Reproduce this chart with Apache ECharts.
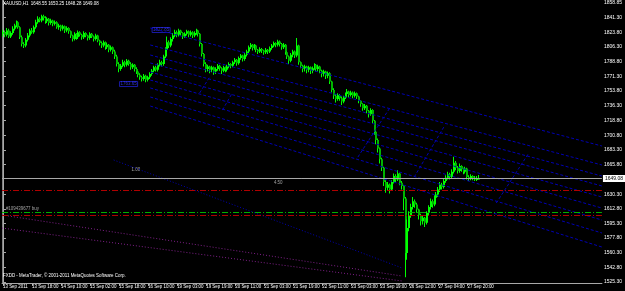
<!DOCTYPE html>
<html><head><meta charset="utf-8">
<script src="https://cdn.jsdelivr.net/npm/echarts@6/dist/echarts.min.js"></script>
<style>html,body{margin:0;padding:0;background:#000;}#c{width:625px;height:291px;}</style>
</head><body><div id="c"></div>
<script>
const timeLabels = ["13 Sep 2011","13 Sep 18:00","14 Sep 10:00","15 Sep 02:00","15 Sep 18:00","16 Sep 10:00","19 Sep 03:00","19 Sep 19:00","20 Sep 11:00","21 Sep 03:00","21 Sep 19:00","22 Sep 11:00","23 Sep 03:00","23 Sep 19:00","26 Sep 12:00","27 Sep 04:00","27 Sep 20:00"];
const labelEvery = 15;
const slotCount = 310;
const priceTicks = [1525.30,1542.80,1560.30,1577.80,1595.30,1612.80,1630.30,1665.80,1683.30,1700.80,1718.80,1736.30,1753.80,1771.30,1788.80,1806.30,1823.80,1841.30,1858.85];

const closes = [1824,1821,1826,1819,1823,1828,1832,1836,1830,1818,
1810,1808,1815,1820,1826,1824,1830,1836,1840,1838,
1843,1841,1837,1840,1835,1838,1834,1836,1830,1832,
1828,1831,1826,1829,1825,1820,1816,1822,1818,1824,
1821,1818,1823,1820,1817,1822,1819,1816,1820,1814,
1811,1808,1812,1806,1809,1803,1806,1801,1795,1786,
1780,1784,1788,1785,1790,1786,1782,1785,1780,1777,
1773,1770,1768,1772,1767,1770,1774,1778,1782,1779,
1785,1788,1786,1795,1803,1812,1808,1816,1820,1824,
1821,1826,1823,1819,1822,1825,1821,1824,1820,1823,
1826,1822,1810,1798,1786,1780,1783,1779,1782,1777,
1780,1784,1781,1778,1782,1779,1783,1786,1784,1788,
1791,1787,1793,1796,1792,1797,1801,1806,1809,1805,
1808,1803,1801,1804,1802,1800,1803,1801,1805,1808,
1811,1809,1813,1810,1806,1809,1800,1795,1790,1797,
1801,1796,1808,1788,1784,1780,1783,1779,1782,1778,
1781,1785,1780,1783,1778,1774,1777,1772,1775,1765,
1755,1748,1744,1749,1745,1741,1746,1750,1753,1749,
1752,1748,1751,1747,1742,1738,1733,1736,1730,1726,
1731,1718,1705,1695,1685,1672,1662,1645,1638,1642,
1636,1645,1652,1648,1655,1644,1640,1625,1560,1590,
1605,1615,1622,1618,1612,1605,1598,1602,1596,1608,
1615,1622,1618,1626,1630,1636,1642,1639,1646,1650,
1654,1651,1657,1668,1662,1658,1664,1660,1657,1661,
1651,1649,1652,1650,1648,1648.55,1649.08];

const opens = [1822,1824,1821,1826,1819,1823,1828,1832,1836,1830,
1818,1810,1808,1815,1820,1826,1824,1830,1836,1840,
1838,1843,1841,1837,1840,1835,1838,1834,1836,1830,
1832,1828,1831,1826,1829,1825,1820,1816,1822,1818,
1824,1821,1818,1823,1820,1817,1822,1819,1816,1820,
1814,1811,1808,1812,1806,1809,1803,1806,1801,1795,
1786,1780,1784,1788,1785,1790,1786,1782,1785,1780,
1777,1773,1770,1768,1772,1767,1770,1774,1778,1782,
1779,1785,1788,1786,1795,1803,1812,1808,1816,1820,
1824,1821,1826,1823,1819,1822,1825,1821,1824,1820,
1823,1826,1822,1810,1798,1786,1780,1783,1779,1782,
1777,1780,1784,1781,1778,1782,1779,1783,1786,1784,
1788,1791,1787,1793,1796,1792,1797,1801,1806,1809,
1805,1808,1803,1801,1804,1802,1800,1803,1801,1805,
1808,1811,1809,1813,1810,1806,1809,1800,1795,1790,
1797,1801,1796,1808,1788,1784,1780,1783,1779,1782,
1778,1781,1785,1780,1783,1778,1774,1777,1772,1775,
1765,1755,1748,1744,1749,1745,1741,1746,1750,1753,
1749,1752,1748,1751,1747,1742,1738,1733,1736,1730,
1726,1731,1718,1705,1695,1685,1672,1662,1645,1638,
1642,1636,1645,1652,1648,1655,1644,1640,1625,1560,
1590,1605,1615,1622,1618,1612,1605,1598,1602,1596,
1608,1615,1622,1618,1626,1630,1636,1642,1639,1646,
1650,1654,1651,1657,1668,1662,1658,1664,1660,1657,
1661,1651,1649,1652,1650,1648,1648.55];

const highs = [1827,1826,1829,1828,1825,1831,1834,1838,1837,1831,
1820,1812,1817,1823,1828,1829,1832,1839,1843,1842,
1845,1845,1843,1842,1841,1840,1839,1838,1837,1834,
1833,1833,1832,1831,1830,1826,1821,1824,1823,1826,
1825,1822,1825,1824,1821,1824,1823,1820,1822,1821,
1815,1813,1814,1813,1811,1810,1808,1807,1803,1797,
1788,1786,1791,1790,1792,1791,1788,1787,1786,1782,
1778,1775,1772,1774,1773,1772,1776,1780,1784,1784,
1787,1791,1790,1797,1806,1819,1814,1818,1823,1827,
1826,1828,1827,1824,1824,1827,1826,1826,1825,1825,
1828,1827,1823,1811,1799,1788,1785,1784,1784,1783,
1782,1786,1785,1782,1784,1783,1785,1788,1787,1790,
1793,1792,1795,1798,1797,1799,1803,1808,1811,1810,
1810,1809,1804,1806,1805,1803,1805,1804,1807,1810,
1813,1812,1815,1814,1811,1811,1810,1801,1796,1799,
1803,1802,1817,1809,1789,1785,1785,1784,1784,1783,
1783,1787,1786,1785,1784,1779,1779,1778,1777,1776,
1766,1757,1750,1751,1750,1747,1748,1752,1756,1754,
1754,1753,1753,1752,1748,1743,1739,1738,1737,1731,
1733,1732,1719,1707,1697,1686,1674,1663,1647,1645,
1643,1647,1655,1654,1659,1656,1646,1641,1627,1600,
1610,1619,1627,1624,1620,1613,1607,1605,1603,1610,
1617,1625,1624,1629,1633,1639,1645,1644,1649,1653,
1657,1656,1660,1675,1670,1664,1667,1665,1662,1663,
1662,1653,1654,1653,1652,1652,1653.25];

const lows = [1819,1818,1819,1817,1817,1821,1826,1830,1828,1816,
1807,1805,1806,1813,1818,1822,1822,1828,1834,1836,
1836,1838,1834,1835,1832,1833,1831,1832,1828,1827,
1825,1826,1823,1824,1822,1817,1813,1814,1815,1816,
1819,1815,1816,1818,1814,1815,1817,1813,1814,1812,
1808,1805,1806,1803,1804,1800,1801,1798,1792,1783,
1776,1778,1782,1782,1783,1784,1779,1780,1777,1774,
1770,1767,1765,1766,1764,1765,1768,1772,1776,1777,
1777,1783,1783,1784,1793,1801,1805,1806,1813,1818,
1818,1819,1820,1816,1817,1820,1818,1819,1817,1818,
1821,1819,1807,1795,1783,1776,1777,1775,1776,1773,
1774,1778,1778,1774,1776,1776,1777,1781,1781,1782,
1786,1784,1785,1791,1789,1790,1795,1799,1804,1802,
1803,1800,1798,1799,1799,1797,1798,1798,1799,1803,
1806,1806,1807,1807,1803,1804,1797,1792,1786,1788,
1794,1793,1794,1785,1781,1776,1777,1775,1776,1774,
1775,1779,1777,1777,1775,1770,1771,1768,1769,1762,
1752,1744,1740,1742,1742,1737,1739,1744,1748,1746,
1747,1745,1746,1744,1739,1735,1730,1731,1727,1722,
1724,1715,1701,1690,1680,1667,1658,1640,1632,1634,
1631,1634,1643,1645,1646,1641,1636,1611,1531,1552,
1586,1602,1612,1614,1608,1600,1593,1594,1591,1594,
1605,1612,1614,1616,1623,1627,1633,1636,1637,1644,
1648,1648,1649,1655,1659,1655,1656,1657,1654,1655,
1648,1646,1647,1647,1646,1646,1648.28];

const bidPrice = 1649.08;
const takeProfit = 1635.3;
const openPrice = 1608.6;
const stopLoss = 1605.7;
// trend lines: [startIndex, startPrice, endIndex, endPrice]
const channelLines = [
  [76.1,1829.0,309.5,1687.9],[76.1,1808.7,309.5,1665.2],[76.1,1796.7,309.5,1652.0],
  [76.1,1787.2,309.5,1640.1],[76.1,1776.4,309.5,1626.9],[76.1,1766.8,309.5,1613.7],
  [76.1,1757.3,309.5,1599.4],[76.1,1746.5,309.5,1583.9],[76.1,1735.7,309.5,1567.1]
];
const crossLines = [
  [183.4,1674.7,200.2,1734.5],[212.5,1650.8,227.8,1710.6],[254.9,1619.7,271.7,1679.5],
  [101.6,1751.3,106.8,1770.4],[113.4,1730.9,118.5,1751.3]
];
const dottedPurple = [[-0.5,1605.4,206.3,1532.4],[-0.5,1589.8,206.3,1526.5]];
const dottedBlue = [[57.2,1671.2,206.3,1542.0]];
const textNotes = [
  {idx:66.4, price:1659.2, text:"1.00"},
  {idx:140, price:1643.6, text:"4.50"},
  {idx:1.5, price:1612.6, text:"#109439677 buy"}
];
const boxNotes = [
  {idx:81.7, price:1826.6, text:"1827.85"},
  {idx:64.9, price:1762.0, text:"1763.65"}
];

const categories = Array.from({length: slotCount}, (_, i) => String(i));
const candleData = closes.map((c, i) => [i, opens[i], c, lows[i], highs[i]]);
const FONT = 'Liberation Sans';
const FS = 4.45;
const FSY = 5;
const isLabelSlot = (i) => i % labelEvery === 0 && i / labelEvery < timeLabels.length;

const lineSeries = [];
const addLines = (arr, color, dash) => arr.forEach(l => lineSeries.push({type:'line', xAxisIndex:1, symbol:'none', silent:true, animation:false,
  data:[[l[0],l[1]],[l[2],l[3]]], lineStyle:{color:color, width:1, type:dash}}));
addLines(channelLines, '#0000b4', [3,2]);
addLines(crossLines, '#0000b4', [3,2]);
addLines(dottedPurple, '#80208a', [1,2]);
addLines(dottedBlue, '#0000b4', [1,2]);

function renderCandle(params, api) {
  const x = api.value(0), o = api.value(1), c = api.value(2), l = api.value(3), h = api.value(4);
  const pH = api.coord([x, h]), pL = api.coord([x, l]), pO = api.coord([x, o]), pC = api.coord([x, c]);
  const cx = Math.round(pH[0]);
  const top = Math.min(pO[1], pC[1]);
  const hgt = Math.max(1, Math.abs(pO[1] - pC[1]));
  return {type:'group', children:[
    {type:'rect', shape:{x:cx - 1, y:pH[1], width:1, height:Math.max(1, pL[1] - pH[1])}, style:{fill:'#00ff00'}},
    {type:'rect', shape:{x:cx - 1, y:top, width:2, height:hgt}, style:{fill: c >= o ? '#00ff00' : '#00b400'}}
  ]};
}

const chart = echarts.init(document.getElementById('c'), null, {renderer:'canvas'});
chart.setOption({
  backgroundColor:'#000',
  animation:false,
  title:[
    {text:'XAUUSD,H1  1648.55 1653.25 1648.28 1649.08', left:3, top:2, padding:0,
     textStyle:{color:'#fff', fontSize:FS, fontWeight:'normal', fontFamily:FONT}},
    {text:'FXDD - MetaTrader, © 2001-2011 MetaQuotes Software Corp.', left:3, top:274, padding:0,
     textStyle:{color:'#fff', fontSize:FS, fontWeight:'normal', fontFamily:FONT}}
  ],
  grid:{left:1, right:18, top:0, bottom:8, containLabel:false},
  xAxis:[
    {type:'category', data:categories, boundaryGap:true,
     axisLine:{show:true, lineStyle:{color:'#a8a8a8', width:1}},
     axisTick:{show:true, alignWithLabel:true, length:3, interval:isLabelSlot, lineStyle:{color:'#a8a8a8'}},
     axisLabel:{show:true, interval:isLabelSlot, align:'left', margin:2, color:'#fff', fontSize:FS, fontFamily:FONT,
       formatter:(v, i) => timeLabels[i / labelEvery] || ''},
     splitLine:{show:false}},
    {type:'value', min:-0.5, max:slotCount - 0.5, show:false}
  ],
  yAxis:[
    {type:'value', position:'right', min:1524.1, max:1862.5, scale:true,
     axisLine:{show:true, lineStyle:{color:'#a8a8a8', width:1}},
     axisTick:{show:true, length:3, customValues:priceTicks, lineStyle:{color:'#a8a8a8'}},
     axisLabel:{show:true, customValues:priceTicks, margin:2, color:'#fff', fontSize:FSY, fontFamily:FONT,
       formatter:v => v.toFixed(2)},
     splitLine:{show:false}},
    {type:'value', position:'left', min:1524.1, max:1862.5, axisLine:{show:true, lineStyle:{color:'#808080'}},
     axisTick:{show:false}, axisLabel:{show:false}, splitLine:{show:false}}
  ],
  series:[
    ...lineSeries,
    {type:'scatter', xAxisIndex:1, symbolSize:0, silent:true,
     data:textNotes.map(t => ({value:[t.idx, t.price], label:{show:true, formatter:t.text, position:'right', distance:0,
       color:'#c8c8c8', fontSize:FS, fontFamily:FONT}}))},
    {type:'scatter', xAxisIndex:1, symbolSize:0, silent:true,
     data:boxNotes.map(t => ({value:[t.idx, t.price], label:{show:true, formatter:t.text, position:'inside',
       color:'#3c3cff', fontSize:FS, fontFamily:FONT, borderColor:'#2020d0', borderWidth:1, padding:[1,1,0,1]}}))},
    {type:'line', xAxisIndex:1, data:[], symbol:'none', silent:true,
     markLine:{symbol:'none', silent:true, animation:false,
       data:[
         {yAxis:bidPrice, lineStyle:{color:'#a8a8a8', type:'solid', width:1},
          label:{show:true, position:'end', formatter:'1649.08', backgroundColor:'#fff', color:'#000', fontSize:FSY, fontFamily:FONT, padding:[1,2], distance:1}},
         {yAxis:takeProfit, lineStyle:{color:'#b00000', type:[6,2,1,2], width:1}, label:{show:false}},
         {yAxis:openPrice, lineStyle:{color:'#00b000', type:[6,2,1,2], width:1}, label:{show:false}},
         {yAxis:stopLoss, lineStyle:{color:'#b00000', type:[6,2,1,2], width:1}, label:{show:false}}
       ]}},
    {type:'custom', renderItem:renderCandle, data:candleData, encode:{x:0, y:[1,2,3,4]}, silent:true}
  ]
});
</script></body></html>
